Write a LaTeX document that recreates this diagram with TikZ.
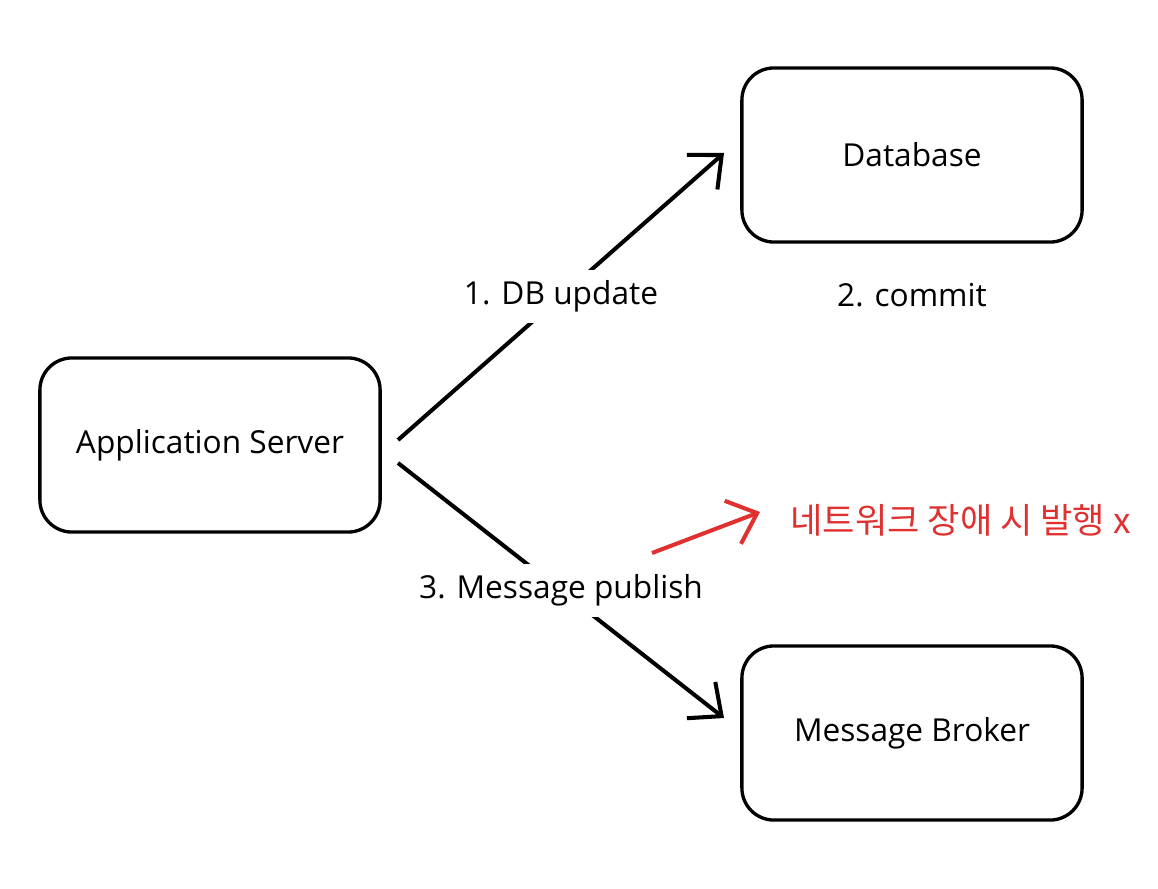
\documentclass[tikz,border=0pt]{standalone}
\usepackage{fontspec}
\setmainfont{Open Sans}
\newfontfamily\krfont{Noto Sans CJK KR}
\usetikzlibrary{arrows.meta}

\definecolor{failred}{RGB}{224,49,49}

\tikzset{
    box/.style={draw, line width=0.95pt, rounded corners=0.32cm,
        minimum width=3.4cm, minimum height=1.74cm, font=\fontsize{9}{11}\selectfont},
    link/.style={line width=1.15pt, -{Straight Barb[length=2.6mm, width=4.6mm, line width=1.15pt]}},
    lbl/.style={fill=white, inner sep=3pt, font=\fontsize{9}{11}\selectfont}
}

\begin{document}
\begin{tikzpicture}[x=0.01cm, y=-0.01cm]

    \useasboundingbox (0,0) rectangle (1158,888);

    % boxes
    \node[box] (app) at (210,445) {Application Server};
    \node[box] (db) at (912,155) {Database};
    \node[box] (mb) at (912,733) {Message Broker};

    % arrow ends
    \coordinate (s1) at (398,440);
    \coordinate (e1) at (724,153);
    \coordinate (s3) at (398,463);
    \coordinate (e3) at (724,718);
    \coordinate (sr) at (652,553);
    \coordinate (er) at (760,512);

    % app -> db
    \draw[link] (s1) -- (e1) node[lbl, midway] {1. DB update};
    % app -> broker
    \draw[link] (s3) -- (e3) node[lbl, midway] {3. Message publish};

    % texts
    \node[font=\fontsize{9}{11}\selectfont] (commit) at (912,295) {2. commit};

    % network failure
    \draw[link, failred] (sr) -- (er);
    \node[anchor=west, text=failred, font=\krfont\fontsize{10}{12}\selectfont] (fail) at (778,520) {네트워크 장애 시 발행 x};

\end{tikzpicture}
\end{document}
